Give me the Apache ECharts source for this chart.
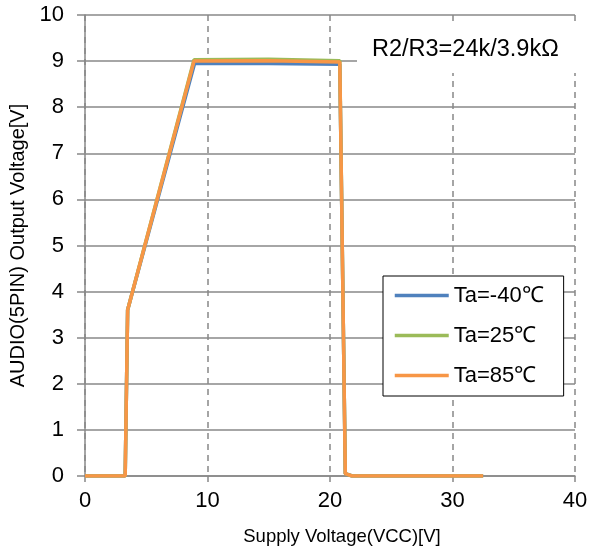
<!DOCTYPE html>
<html><head><meta charset="utf-8">
<script src="https://cdn.jsdelivr.net/npm/echarts@6/dist/echarts.min.js"></script>
<style>html,body{margin:0;padding:0;background:#fff}#c{width:591px;height:557px}</style>
</head><body><div id="c"></div>
<script>
const seriesNames = ['Ta=-40℃', 'Ta=25℃', 'Ta=85℃'];
const colors = ['#4F81BD', '#9BBB59', '#F79646'];
const vccM40 = [0, 3.28, 3.48, 8.95, 15, 20.8, 21.25, 21.8, 32.5];
const outM40 = [0, 0, 3.6, 8.95, 8.95, 8.93, 0.05, 0, 0];
const vcc25 = [0, 3.28, 3.48, 8.9, 15, 20.8, 21.25, 21.8, 32.5];
const out25 = [0, 0, 3.6, 9.03, 9.04, 9.01, 0.05, 0, 0];
const vcc85 = [0, 3.28, 3.48, 8.9, 15, 20.8, 21.25, 21.8, 32.5];
const out85 = [0, 0, 3.6, 9.0, 9.01, 8.98, 0.05, 0, 0];
const annotation = 'R2/R3=24k/3.9kΩ';
const xTitle = 'Supply Voltage(VCC)[V]';
const yTitle = 'AUDIO(5PIN) Output Voltage[V]';

const pairs = (xs, ys) => xs.map((x, i) => [x, ys[i]]);
const dataSets = [pairs(vccM40, outM40), pairs(vcc25, out25), pairs(vcc85, out85)];

const chart = echarts.init(document.getElementById('c'));
const font = "'Liberation Sans', Arial, sans-serif";
chart.setOption({
  animation: false,
  backgroundColor: '#fff',
  grid: { left: 84, right: 16, top: 15, bottom: 81 },
  xAxis: {
    type: 'value', min: 0, max: 40, interval: 10,
    name: xTitle, nameLocation: 'middle', nameGap: 51,
    nameTextStyle: { fontFamily: font, fontSize: 18.5, color: '#000', padding: [0, 0, 0, 24] },
    axisLine: { show: true, lineStyle: { color: '#888', width: 1.5 } },
    axisTick: { show: true, length: 6, lineStyle: { color: '#888', width: 1.5 } },
    axisLabel: { fontFamily: font, fontSize: 22, color: '#000', margin: 14 },
    splitLine: { show: true, lineStyle: { color: '#888', type: [6, 5], width: 1.5 } }
  },
  yAxis: {
    type: 'value', min: 0, max: 10, interval: 1,
    name: yTitle, nameLocation: 'middle', nameGap: 57, nameRotate: 90,
    nameTextStyle: { fontFamily: font, fontSize: 20, color: '#000' },
    axisLine: { show: true, lineStyle: { color: '#888', width: 1.5 } },
    axisTick: { show: true, length: 8, lineStyle: { color: '#888', width: 1.5 } },
    axisLabel: { fontFamily: font, fontSize: 22, color: '#000', margin: 21 },
    splitLine: { show: true, lineStyle: { color: '#888', width: 1.5 } }
  },
  legend: {
    orient: 'vertical', left: 383, top: 276,
    backgroundColor: '#fff', borderColor: '#000', borderWidth: 1,
    padding: [8.5, 20, 9.5, 10],
    itemWidth: 54, itemHeight: 21, itemGap: 18,
    itemStyle: { opacity: 0 },
    lineStyle: { width: 3.5 },
    textStyle: { fontFamily: font, fontSize: 22, color: '#000' },
    data: seriesNames
  },
  series: seriesNames.map((n, i) => ({
    name: n, type: 'line', data: dataSets[i], showSymbol: false, symbol: 'none',
    lineStyle: { color: colors[i], width: 3.5 }, itemStyle: { color: colors[i] },
    z: 2 + i
  })),
  graphic: [{
    type: 'rect', left: 357, top: 22, z: 10,
    shape: { width: 234, height: 51 }, style: { fill: '#fff' }
  }, {
    type: 'text', left: 372, top: 38, z: 11,
    style: { text: annotation, font: '23.5px ' + font, fill: '#000' }
  }]
});
</script></body></html>
